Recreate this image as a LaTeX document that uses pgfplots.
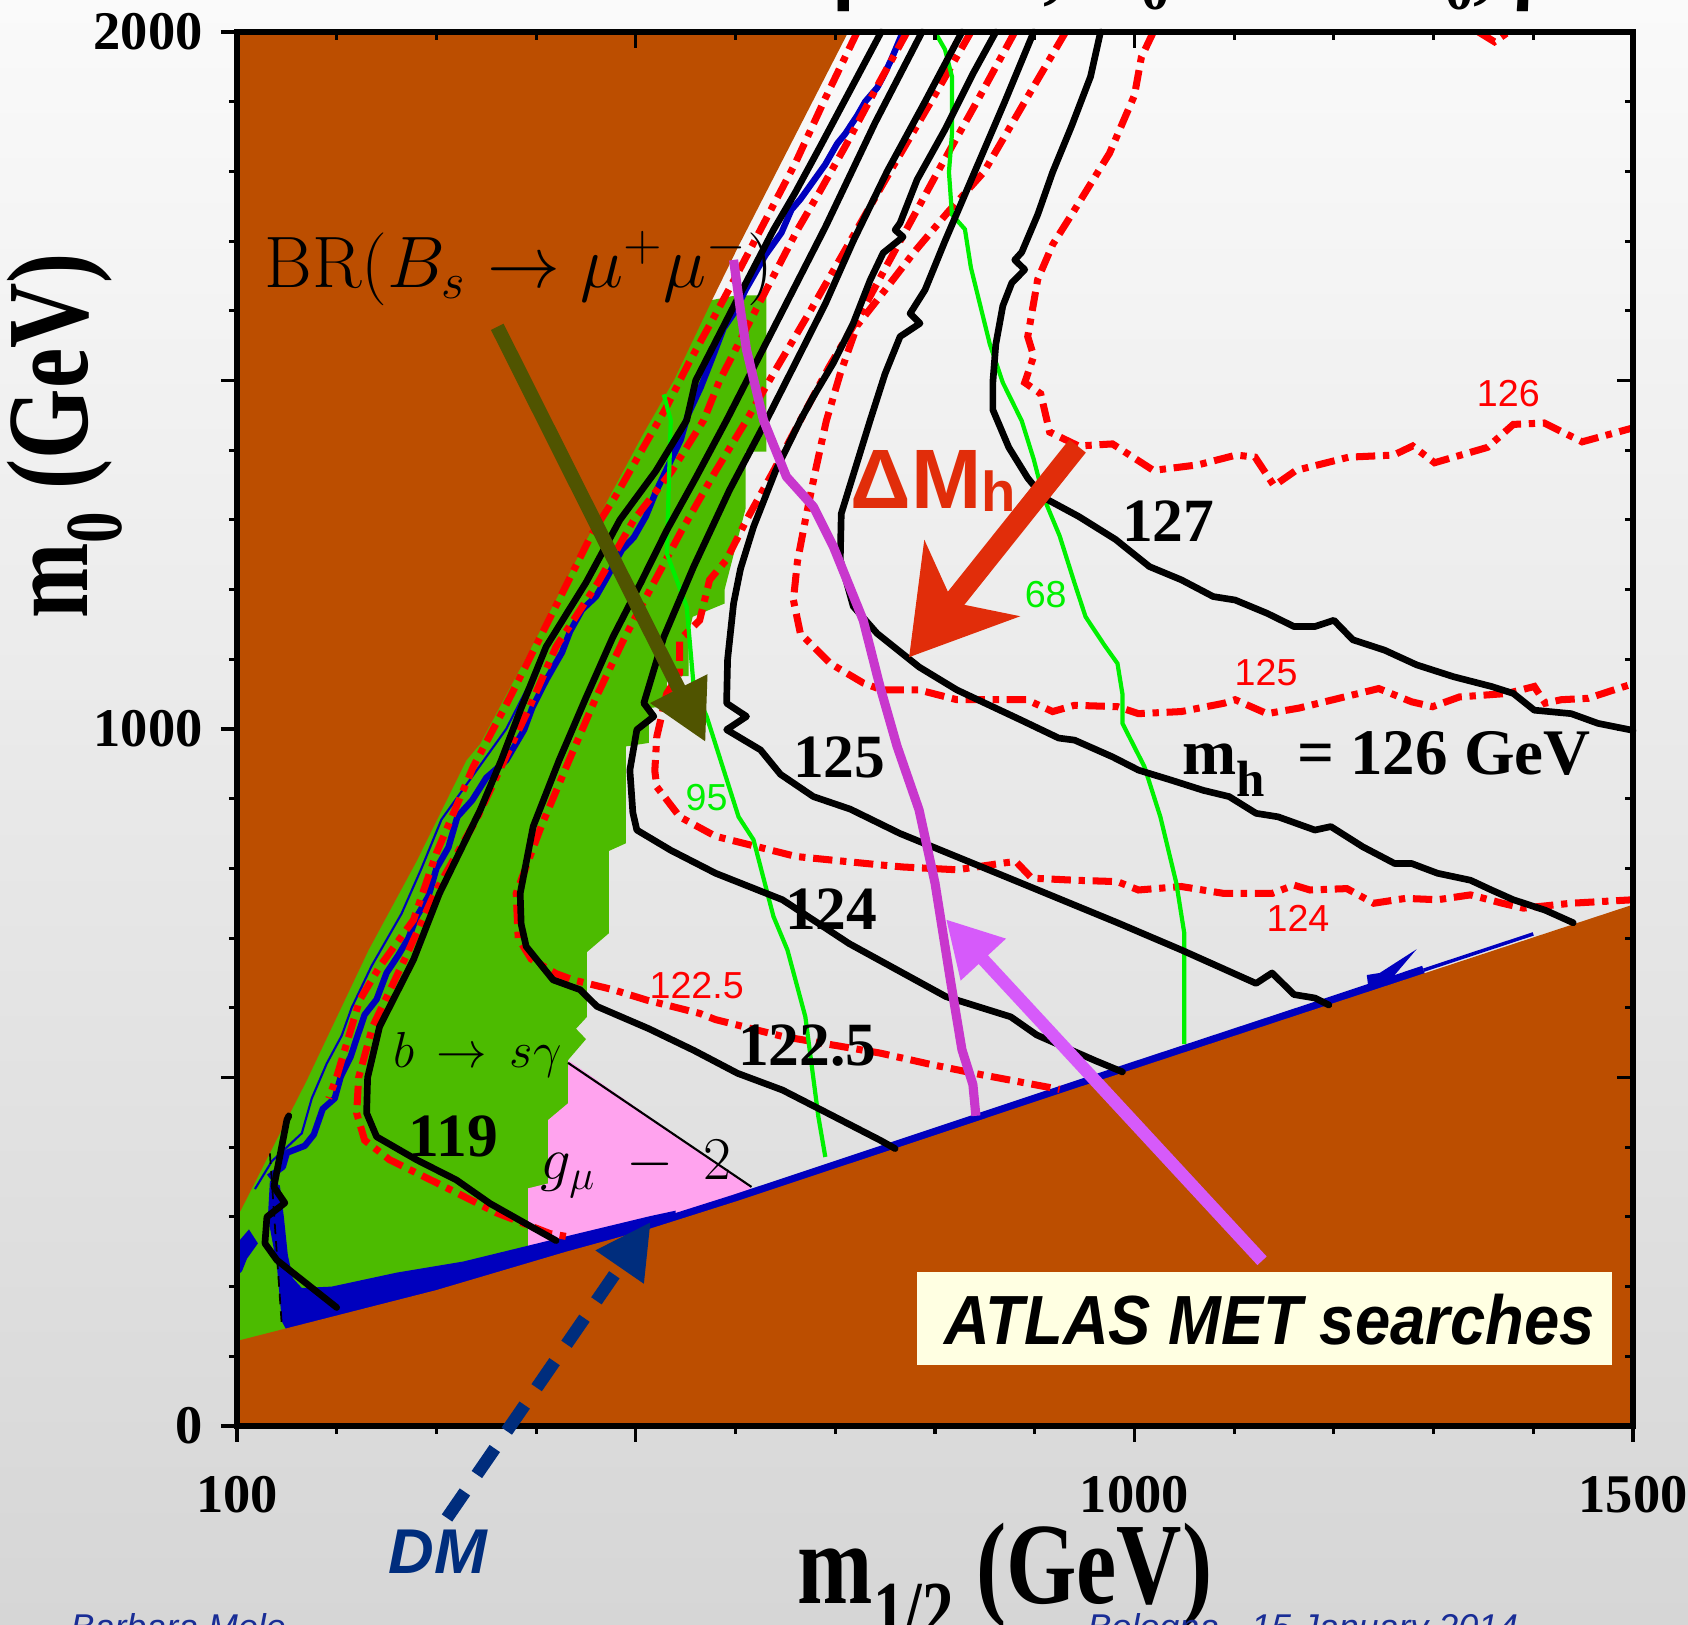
\documentclass[border=0pt]{standalone}
\usepackage[no-math]{fontspec}
\setmainfont{Liberation Serif}
\setsansfont{Liberation Sans}
\usepackage{pgfplots}
\pgfplotsset{compat=1.18}
\usetikzlibrary{arrows.meta}
\definecolor{bgtop}{RGB}{250,250,250}
\definecolor{bgbot}{RGB}{214,214,214}
\definecolor{brownc}{RGB}{188,78,0}
\definecolor{greenreg}{RGB}{76,187,0}
\definecolor{pinkreg}{RGB}{255,163,238}
\definecolor{bluedm}{RGB}{0,0,190}
\definecolor{limeg}{RGB}{0,240,0}
\definecolor{magl}{RGB}{200,55,205}
\definecolor{magarrow}{RGB}{214,90,250}
\definecolor{olivearrow}{RGB}{80,84,0}
\definecolor{dmh}{RGB}{225,45,10}
\definecolor{dmblue}{RGB}{0,45,125}
\definecolor{footblue}{RGB}{25,45,150}
\definecolor{atlasbg}{RGB}{255,255,226}
\definecolor{redc}{RGB}{255,0,0}
\newcommand{\fs}[1]{\fontsize{#1}{#1}\selectfont}
\tikzset{
  redd/.style={redc, line width=2pt, dash pattern=on 5.5pt off 2.2pt on 1.8pt off 2.2pt},
  blk/.style={black, line width=1.9pt, line join=round, line cap=round},
  grn/.style={limeg, line width=1.2pt},
}
\begin{document}
\begin{tikzpicture}
\shade[top color=bgtop, bottom color=bgbot] (-23.7mm,-19.9mm) rectangle (145.1mm,142.6mm);
\begin{axis}[
  at={(0,0)}, anchor=south west,
  width=139.6mm, height=139.4mm, scale only axis,
  xmin=100, xmax=1500, ymin=0, ymax=2000,
  axis on top, clip=false,
  axis line style={line width=1.6pt},
  tick align=outside,
  xtick pos=left, ytick pos=left,
  xtick={500}, xticklabels={},
  minor xtick={200,300,400,600,700,800,900,1100,1200,1300,1400},
  extra x ticks={100,1000,1500},
  extra x tick labels={100,1000,1500},
  ytick={500,1500}, yticklabels={},
  minor ytick={100,200,300,400,600,700,800,900,1100,1200,1300,1400,1600,1700,1800,1900},
  extra y ticks={0,1000,2000},
  extra y tick labels={0,1000,2000},
  major tick length=1.6mm, minor tick length=0.8mm,
  tick style={line width=0.9pt, black},
  ticklabel style={font=\fs{15.5}\bfseries},
  /pgf/number format/assume math mode=true,
  xticklabel style={yshift=-2.2mm},
  yticklabel style={xshift=-0.6mm},
]
% ---------- green b->s gamma region
\addplot[fill=greenreg, draw=none] coordinates {
(100,100) (100,1615) (575,1615) (600,1622) (631,1622) (631,1398) (610,1398) (610,1316)
(589,1200) (589,1180) (557,1161) (553,1137) (553,1076) (531,1076) (531,1033) (513,1030)
(513,980) (490,975) (490,836) (473,825) (473,707) (451,680) (451,587) (440,570) (450,555)
(432,525) (432,100)} -- cycle;
% ---------- pink g-2 region
\addplot[fill=pinkreg, draw=none] coordinates {
(432,525) (615,343) (615,150) (392,150) (392,341) (412,348) (412,439) (432,463)} -- cycle;
% ---------- blue DM band (lower left thick part)
\addplot[fill=bluedm, draw=none] coordinates {
(133,352) (143,345) (147,300) (151,245) (156,212) (165,198) (195,200) (260,220) (327,236)
(430,272) (514,301) (540,309) (540,250) (160,110) (145,150) (140,230) (131,300)} -- cycle;
\addplot[fill=bluedm, draw=none] coordinates {
(100,215) (100,262) (112,282) (121,262) (110,240) (105,222)} -- cycle;
\addplot[bluedm, line width=2.6pt] coordinates {
(514,287) (600,326) (745,395) (942,489) (1158,591) (1240,630) (1290,654)};
\addplot[bluedm, line width=1pt] coordinates {(1290,654) (1400,706)};
\addplot[fill=bluedm, draw=none] coordinates {
(1235,625) (1233,647) (1246,650) (1283,684) (1252,632)} -- cycle;
% ---------- brown excluded regions
\addplot[fill=brownc, draw=none] coordinates {
(100,2000) (713,2000) (603,1693) (578,1620) (538,1500) (506,1420) (454,1281) (400,1130)
(344,979) (330,955) (280,810) (232,683) (170,496) (104,310) (100,300)} -- cycle;
\addplot[fill=brownc, draw=none] coordinates {
(100,0) (1500,0) (1500,748) (1158,587) (942,485) (745,391) (600,322) (514,283)
(430,250) (300,195) (100,122)} -- cycle;
% ---------- blue strip along upper boundary
\addplot[bluedm, line width=1.8pt, line join=round] coordinates {
(132,357) (146,372) (150,392) (168,402) (177,418) (186,455) (198,470) (204,501) (214,530)
(220,556) (228,590) (240,612) (250,650) (262,676) (272,700) (280,730) (292,760) (300,800)
(312,830) (321,874) (336,898) (350,930) (370,955) (388,999) (396,1030) (410,1070) (426,1110)
(434,1140) (446,1171) (460,1190) (470,1215) (486,1257) (498,1275) (510,1305) (520,1340)
(530,1370) (545,1415) (552,1450) (565,1490) (576,1530) (588,1575) (600,1600) (610,1630)
(622,1660) (630,1680) (646,1712) (656,1745) (665,1760) (680,1790) (690,1810) (702,1840)
(710,1854) (722,1880) (730,1900) (742,1920) (748,1936) (756,1960) (766,1994) (768,2000)};
\addplot[bluedm, line width=0.6pt] coordinates {
(118,340) (135,380) (165,420) (175,470) (190,520) (205,560) (215,600) (235,660) (265,735)
(285,800) (305,870) (335,930) (370,1000) (395,1070) (430,1170) (460,1230)};
% ---------- thin lines
\addplot[black, line width=0.6pt] coordinates {(432,521) (616,343)};
\addplot[black, line width=0.5pt, dash pattern=on 3pt off 2pt] coordinates {(133,391) (145,143)};
% ---------- red dashed contours
\addplot[redd] coordinates {
(722,2000) (690,1905) (660,1812) (630,1730) (604,1659) (578,1590) (553,1525) (530,1460)
(506,1400) (480,1335) (456,1280) (428,1200) (400,1120) (370,1035) (337,946) (300,822)
(277,726) (243,659) (223,611) (200,501) (192,470)};
\addplot[redd] coordinates {
(772,2000) (745,1930) (710,1836) (684,1770) (662,1716) (622,1606) (584,1500) (568,1443)
(536,1370) (498,1300) (462,1210) (420,1118) (393,1030) (368,955) (340,870) (298,764)
(268,669) (236,573) (222,500) (220,449) (228,410) (253,382) (300,349) (360,306) (414,276) (430,272)};
\addplot[redd] coordinates {
(836,2000) (796,1900) (755,1800) (715,1700) (675,1600) (640,1515) (611,1443) (580,1370)
(546,1285) (518,1210) (489,1132) (460,1045) (433,955) (405,860) (380,764) (382,700)
(395,670) (420,649) (437,640) (477,626) (511,611) (564,592) (580,583) (647,559) (745,535)
(795,519) (843,505) (880,495) (925,483)};
\addplot[redd] coordinates {
(880,2000) (842,1900) (803,1800) (765,1700) (727,1600) (694,1520) (665,1443) (638,1370)
(611,1300) (591,1243) (574,1214) (564,1156) (544,1128) (544,1080) (531,1051) (521,989)
(519,940) (521,917) (544,874) (580,846) (661,817) (745,805) (768,802) (822,798) (865,807)
(881,810) (897,786) (940,783) (983,781) (1004,769) (1047,774) (1090,764) (1138,764)
(1160,776) (1176,769) (1213,771) (1240,750) (1272,757) (1304,755) (1337,762) (1369,750)
(1390,743) (1438,750) (1500,755)};
\addplot[redd] coordinates {
(931,2000) (890,1900) (849,1799) (812,1740) (779,1684) (750,1630) (722,1579) (705,1510)
(691,1442) (680,1370) (670,1300) (662,1240) (658,1185) (665,1137) (695,1094) (728,1066)
(747,1056) (784,1056) (822,1042) (892,1042) (918,1025) (940,1034) (983,1032) (1004,1022)
(1047,1025) (1090,1037) (1101,1042) (1133,1022) (1165,1030) (1245,1058) (1278,1039)
(1299,1032) (1326,1046) (1374,1051) (1401,1061) (1412,1037) (1428,1042) (1455,1044) (1500,1065)};
\addplot[redd] coordinates {
(1019,2000) (1007,1964) (1000,1909) (975,1826) (937,1738) (918,1695) (903,1645) (893,1563)
(899,1535) (890,1497) (906,1481) (915,1426) (944,1406) (978,1409) (1019,1371) (1064,1379)
(1102,1393) (1121,1390) (1140,1349) (1162,1371) (1215,1390) (1260,1393) (1279,1406)
(1301,1382) (1354,1404) (1380,1437) (1411,1439) (1449,1412) (1500,1432)};
\addplot[redd] coordinates {(1345,2000) (1361,1986) (1375,2000)};
% ---------- green CL contours
\addplot[grn] coordinates {
(800,2000) (810,1975) (817,1936) (817,1854) (814,1799) (817,1738) (830,1717) (836,1662)
(855,1552) (868,1497) (887,1442) (899,1387) (909,1332) (925,1277) (940,1209) (951,1161)
(970,1120) (983,1094) (988,1050) (988,1008) (1010,946) (1026,874) (1042,779) (1050,707)
(1050,635) (1050,548)};
\addplot[grn] coordinates {
(528,1480) (535,1443) (531,1252) (551,1175) (558,1061) (571,1018) (603,874) (618,841)
(638,731) (652,683) (670,587) (683,444) (690,386)};
% ---------- black m_h contours
\addplot[blk] coordinates {
(152,445) (150,439) (137,343) (148,320) (130,300) (128,262) (140,238) (200,170)};
\addplot[blk] coordinates {
(746,2000) (720,1930) (685,1836) (660,1770) (638,1716) (598,1606) (560,1500) (551,1443)
(520,1370) (484,1300) (450,1210) (410,1118) (385,1030) (365,955) (344,884) (303,764)
(277,669) (243,573) (231,500) (230,449) (240,415) (280,382) (320,353) (354,319) (390,290) (420,266)};
\addplot[blk] coordinates {
(787,2000) (740,1870) (690,1720) (640,1580) (591,1443) (560,1360) (531,1285) (505,1210)
(477,1132) (450,1045) (423,955) (397,860) (384,764) (385,720) (390,688) (417,640) (444,626)
(461,602) (513,570) (558,539) (602,506) (647,482) (692,449) (745,410) (760,398)};
\addplot[blk] coordinates {
(827,2000) (790,1900) (752,1800) (718,1700) (690,1610) (660,1525) (631,1443) (594,1343)
(558,1233) (528,1132) (508,1037) (518,1018) (501,999) (494,941) (497,880) (501,855)
(535,826) (580,793) (647,755) (714,692) (811,616) (876,587) (902,561) (961,524) (988,508)};
\addplot[blk] coordinates {
(861,2000) (838,1940) (810,1860) (782,1788) (765,1726) (760,1716) (768,1706) (748,1683)
(735,1644) (718,1582) (698,1525) (678,1477) (665,1443) (640,1370) (618,1290) (605,1230)
(598,1180) (592,1100) (591,1037) (611,1018) (591,999) (625,970) (645,935) (678,903)
(715,885) (765,850) (876,785) (983,722) (1047,683) (1122,635) (1138,650) (1160,619)
(1181,614) (1195,604)};
\addplot[blk] coordinates {
(899,2000) (870,1900) (840,1800) (810,1700) (790,1630) (775,1596) (785,1582) (765,1563)
(750,1510) (735,1443) (706,1309) (705,1243) (718,1176) (742,1137) (784,1089) (822,1056)
(886,1013) (924,987) (940,984) (978,960) (1004,941) (1036,927) (1069,912) (1095,903)
(1122,879) (1144,874) (1181,855) (1197,860) (1229,831) (1261,807) (1278,807) (1304,793)
(1337,783) (1358,769) (1380,755) (1412,740) (1440,722)};
\addplot[blk] coordinates {
(966,2000) (956,1936) (937,1865) (918,1799) (903,1738) (887,1684) (880,1673) (890,1659)
(877,1640) (868,1607) (861,1552) (858,1497) (858,1458) (874,1404) (893,1360) (909,1332)
(944,1305) (981,1272) (1015,1233) (1047,1214) (1079,1190) (1101,1185) (1133,1166)
(1160,1147) (1181,1147) (1200,1156) (1219,1128) (1251,1113) (1283,1092) (1320,1075)
(1358,1061) (1380,1051) (1401,1027) (1438,1022) (1465,1008) (1500,998)};
% ---------- ATLAS limit
\addplot[magl, line width=2.6pt, line join=round] coordinates {
(598,1673) (605,1600) (611,1544) (628,1443) (651,1362) (678,1319) (698,1262) (728,1156)
(745,1060) (762,975) (784,884) (800,779) (816,635) (827,540) (838,490) (841,445)};
% ---------- labels
\node[anchor=base, font=\fs{17.5}\bfseries] at (axis cs:1034,1269) {127};
\node[anchor=base, font=\fs{17.5}\bfseries] at (axis cs:704,931) {125};
\node[anchor=base, font=\fs{17.5}\bfseries] at (axis cs:696,713) {124};
\node[anchor=base, font=\fs{17.5}\bfseries] at (axis cs:672,517) {122.5};
\node[anchor=base, font=\fs{17.5}\bfseries] at (axis cs:317,386) {119};
\node[anchor=base west, inner sep=0pt, font=\fs{18.5}\bfseries] at (axis cs:1047,934)
  {m\raisebox{-6.2pt}{\fs{14.5}h}\hspace{0.5em}= 126 GeV};
\node[anchor=base, font=\fs{10.7}\sffamily, text=redc] at (axis cs:1375,1462) {126};
\node[anchor=base, font=\fs{10.7}\sffamily, text=redc] at (axis cs:1132,1062) {125};
\node[anchor=base, font=\fs{10.7}\sffamily, text=redc] at (axis cs:1164,709) {124};
\node[anchor=base, font=\fs{10.7}\sffamily, text=redc] at (axis cs:561,614) {122.5};
\node[anchor=base, font=\fs{10.7}\sffamily, text=limeg] at (axis cs:571,883) {95};
\node[anchor=base, font=\fs{10.7}\sffamily, text=limeg] at (axis cs:911,1174) {68};
\node[anchor=base west, inner sep=0pt, font=\fs{24}\sffamily\bfseries, text=dmh] at (axis cs:715,1317)
  {ΔM\raisebox{-1pt}{\fs{16}h}};
\node[anchor=base west, inner sep=0pt] at (axis cs:127,1634)
  {\fs{21.5}$\mathrm{BR}(B_s\rightarrow\mu^+\mu^-)$};
\node[anchor=base west, inner sep=0pt] at (axis cs:256,515) {\fs{14.5}$b\,\rightarrow\,s\gamma$};
\node[anchor=base west, inner sep=0pt] at (axis cs:404,353) {\fs{18}$g_\mu\;-\;2$};
% ---------- ATLAS box
\fill[atlasbg] (axis cs:782,87.5) rectangle (axis cs:1478.6,221);
\node[anchor=base] at (axis cs:1135.6,117.6)
  {\scalebox{0.91}[1]{\fs{19.8}\sffamily\bfseries\itshape ATLAS MET searches}};
% ---------- arrows
\draw[olivearrow, line width=4pt, -{Triangle[length=6mm,width=6mm]}]
  (axis cs:361,1577) -- (axis cs:570,981);
\draw[magarrow, line width=3.6pt, -{Triangle[length=5.5mm,width=5.8mm]}]
  (axis cs:1128,237) -- (axis cs:811,727);
\draw[dmh, line width=6pt, -{Stealth[length=10mm,width=12mm,inset=3mm]}]
  (axis cs:943,1406) -- (axis cs:774,1103);
\coordinate (dmtail) at (axis cs:310.6,-132);
\coordinate (dmtip) at (axis cs:515,293);
\end{axis}
\begin{axis}[
  at={(0,0)}, anchor=south west,
  width=139.6mm, height=139.4mm, scale only axis,
  xmin=100, xmax=1500, ymin=0, ymax=2000,
  axis line style={line width=1.6pt},
  tick align=inside,
  xtick pos=right, ytick pos=right,
  xtick={500,1000,1500}, xticklabels={},
  ytick={500,1000,1500}, yticklabels={},
  minor xtick={200,300,400,600,700,800,900,1100,1200,1300,1400},
  minor ytick={100,200,300,400,600,700,800,900,1100,1200,1300,1400,1600,1700,1800,1900},
  major tick length=1.6mm, minor tick length=0.8mm,
  tick style={line width=0.9pt, black},
]
\end{axis}
\draw[dmblue, line width=3.6pt, dash pattern=on 9pt off 6pt, -{Triangle[length=5.5mm,width=5.5mm]}]
  (dmtail) -- (dmtip);
\node[font=\fs{18}\sffamily\bfseries\itshape, text=dmblue] at (20.1mm,-12.6mm) {DM};
% axis titles
\node[anchor=base] at (76.8mm,-17.8mm)
  {\scalebox{0.78}[1]{\fs{33}\bfseries m\raisebox{-9.4pt}{\fs{23}1/2} (GeV)}};
\node[rotate=90, anchor=base] at (-14.9mm,99.0mm)
  {\scalebox{0.78}[1]{\fs{33}\bfseries m\raisebox{-9.4pt}{\fs{23}0} (GeV)}};
% cut-off title and footers
\node[anchor=base west, inner sep=0pt] at (46.3mm,143.1mm)
  {\fs{23}\bfseries tan β = 10, A\raisebox{-4pt}{\fs{16}0} = 2.5 m\raisebox{-4pt}{\fs{16}0}, μ > 0};
\node[anchor=base west, inner sep=0pt, text=footblue] at (-16.7mm,-21.4mm)
  {\fs{10.2}\sffamily\itshape Barbara Mele};
\node[anchor=base west, inner sep=0pt, text=footblue] at (85mm,-21.4mm)
  {\fs{10.2}\sffamily\itshape Bologna - 15 January 2014};
\pgfresetboundingbox
\path[use as bounding box] (-23.7mm,-19.9mm) rectangle (145.1mm,142.6mm);
\end{tikzpicture}
\end{document}
